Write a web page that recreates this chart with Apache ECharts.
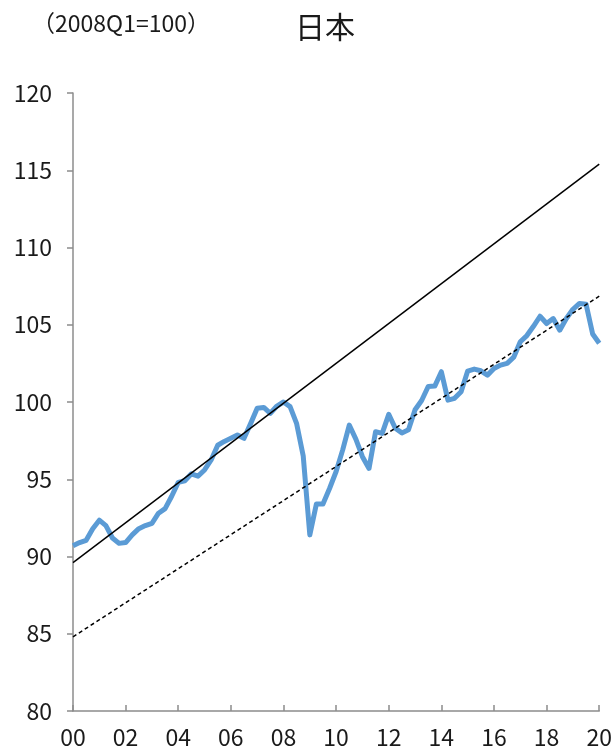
<!DOCTYPE html>
<html><head><meta charset="utf-8">
<script src="https://cdn.jsdelivr.net/npm/echarts@6/dist/echarts.min.js"></script>
<style>html,body{margin:0;padding:0;background:#fff}#c{width:615px;height:753px}</style>
</head><body><div id="c"></div>
<script>
const startYear = 2000;
const gdpIndex = [
  90.7, 90.9, 91.05, 91.8,
  92.35, 92.0, 91.2, 90.85,
  90.9, 91.4, 91.8, 92.0,
  92.15, 92.8, 93.1, 93.9,
  94.8, 94.9, 95.35, 95.2,
  95.6, 96.25, 97.2, 97.45,
  97.65, 97.86, 97.65, 98.6,
  99.6, 99.65, 99.27, 99.74,
  100.0, 99.7, 98.6, 96.5,
  91.4, 93.4, 93.4, 94.4,
  95.5, 96.9, 98.5, 97.6,
  96.46, 95.7, 98.08, 97.97,
  99.2, 98.3, 98.0, 98.2,
  99.5, 100.1, 101.0, 101.03,
  101.96, 100.12, 100.24, 100.67,
  102.0, 102.13, 102.02, 101.74,
  102.17, 102.39, 102.5, 102.9,
  103.9, 104.3, 104.9, 105.55,
  105.08, 105.4, 104.65, 105.4,
  106.0, 106.38, 106.33, 104.4,
  103.8
];
const trendPre = [[2000, 89.6], [2020, 115.4]];
const trendPost = [[2000, 84.8], [2020, 106.85]];
const yTicks = [80, 85, 90, 95, 100, 105, 110, 115, 120];

const blueData = gdpIndex.map((v, i) => [startYear + i / 4, v]);
const font = '"Noto Sans CJK JP", "Noto Sans", sans-serif';
const axisColor = '#8c8c8c';

const chart = echarts.init(document.getElementById('c'));
chart.setOption({
  animation: false,
  backgroundColor: '#fff',
  title: [
    { text: '日本', left: 320, top: 7, textAlign: 'center',
      textStyle: { fontFamily: font, fontSize: 30, fontWeight: 'normal', color: '#1a1a1a' } },
    { text: '（2008Q1=100）', left: 27, top: 7,
      textStyle: { fontFamily: font, fontSize: 23, fontWeight: 'normal', color: '#1a1a1a' } }
  ],
  grid: { left: 73, right: 14, top: 93, bottom: 42, containLabel: false },
  xAxis: {
    type: 'value', min: 2000, max: 2020, interval: 2,
    axisLine: { show: true, lineStyle: { color: axisColor, width: 1.5 } },
    axisTick: { show: true, inside: true, length: 6, lineStyle: { color: axisColor, width: 1.5 } },
    splitLine: { show: false },
    axisLabel: { margin: 15, fontFamily: font, fontSize: 23, color: '#1a1a1a',
      formatter: v => String(v % 100).padStart(2, '0') }
  },
  yAxis: {
    type: 'value', min: yTicks[0], max: yTicks[yTicks.length - 1], interval: 5,
    axisLine: { show: true, lineStyle: { color: axisColor, width: 1.5 } },
    axisTick: { show: true, inside: false, length: 6, lineStyle: { color: axisColor, width: 1.5 } },
    splitLine: { show: false },
    axisLabel: { margin: 21, fontFamily: font, fontSize: 23, color: '#1a1a1a' }
  },
  series: [
    { type: 'line', data: blueData, showSymbol: false, symbol: 'none',
      lineStyle: { color: '#5b9bd5', width: 5, join: 'round' }, z: 2 },
    { type: 'line', data: trendPre, showSymbol: false, symbol: 'none',
      lineStyle: { color: '#000', width: 1.5 }, z: 3 },
    { type: 'line', data: trendPost, showSymbol: false, symbol: 'none',
      lineStyle: { color: '#000', width: 1.5, type: [4, 3] }, z: 3 }
  ]
});
</script></body></html>
